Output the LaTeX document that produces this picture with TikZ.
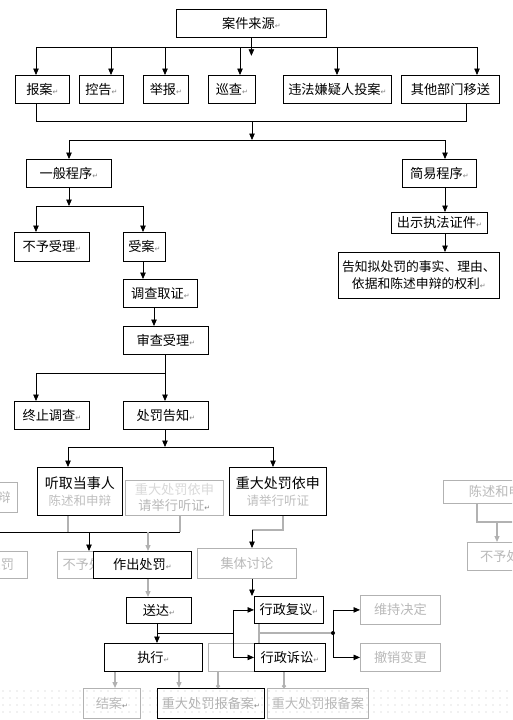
\documentclass[tikz,border=0pt]{standalone}
\usepackage{fontspec}
\setmainfont{Noto Sans CJK SC}
\newfontfamily\djvfont{DejaVu Sans}
\usetikzlibrary{arrows.meta}
\newcommand{\retmk}{{\djvfont\fontsize{7}{7}\selectfont\textcolor{gray}{↵}}}
\newcommand{\mybox}[7][box]{\node[#1, anchor=north west, minimum width={#5-#3}, minimum height={#6-#4}] (#2) at (#3,#4) {#7};}
\tikzset{
  box/.style={draw, line width=0.8pt, inner sep=0pt, font=\fontsize{13.2}{16}\selectfont, align=center},
  gbox/.style={box, draw=gray!60, text=gray!55},
  ln/.style={line width=0.8pt},
  gln/.style={line width=1.2pt, gray!60},
  arr/.style={ln, -{Triangle[length=6.5pt,width=5.5pt]}},
  garr/.style={gln, -{Triangle[length=6pt,width=5pt]}},
  dotarr/.style={gln, -{Circle[length=4pt]}},
}
\begin{document}
\begin{tikzpicture}[x=1pt,y=-1pt]
\clip (0,0) rectangle (512,720);
\fill[white] (0,0) rectangle (512,720);
% dot grid at the bottom
\foreach \x in {3,10,...,510} \foreach \y in {691,698,...,718} \fill[gray!45] (\x,\y) circle (0.55);

% ---------- top part ----------
\mybox{src}{176}{9}{326}{37}{案件来源\retmk}
\mybox{baoan}{15}{75}{69}{103}{报案\retmk}
\mybox{konggao}{79}{75}{123}{103}{控告\retmk}
\mybox{jubao}{143}{75}{188}{103}{举报\retmk}
\mybox{xuncha}{208}{75}{255}{103}{巡查\retmk}
\mybox{toukan}{283}{75}{391}{103}{违法嫌疑人投案\retmk}
\mybox{yisong}{401}{75}{499}{103}{其他部门移送}

\coordinate (b1L) at (36,47);
\coordinate (b1R) at (477,47);
\draw[ln] (b1L) -- (b1R);
\draw[arr] (src.south) -- ++(0,18);
\foreach \x/\n in {36/baoan,111/konggao,165/jubao,240/xuncha,337/toukan,477/yisong}
  \draw[arr] (\x,47) -- (\x,0 |- \n.north);

\draw[ln] (36,0 |- baoan.south) -- (36,121) -- (466,121) -- (466,0 |- yisong.south);
\draw[arr] (252,121) -- (252,140);

\mybox{yiban}{26}{159}{111}{187}{一般程序\retmk}
\mybox{jianyi}{402}{159}{476}{187}{简易程序\retmk}
\draw[ln] (69,140) -- (445,140);
\draw[arr] (69,140) -- (69,0 |- yiban.north);
\draw[arr] (445,140) -- (445,0 |- jianyi.north);

% general procedure
\mybox{buyu}{14}{232}{89}{261}{不予受理\retmk}
\mybox{shouan}{123}{232}{165}{261}{受案\retmk}
\draw[arr] (69,0 |- yiban.south) -- (69,206);
\draw[ln] (36,206) -- (143,206);
\draw[arr] (36,206) -- (36,0 |- buyu.north);
\draw[arr] (143,206) -- (143,0 |- shouan.north);

\mybox{diaocha}{123}{279}{197}{307}{调查取证\retmk}
\draw[arr] (143,0 |- shouan.south) -- (143,0 |- diaocha.north);
\mybox{shencha}{123}{326}{208}{354}{审查受理\retmk}
\draw[arr] (154,0 |- diaocha.south) -- (154,0 |- shencha.north);

\mybox{zhongzhi}{14}{401}{89}{429}{终止调查\retmk}
\mybox{gaozhi}{123}{401}{208}{429}{处罚告知\retmk}
\draw[ln] (165,0 |- shencha.south) -- (165,373) -- (36,373);
\draw[arr] (36,373) -- (36,0 |- zhongzhi.north);
\draw[arr] (165,373) -- (165,0 |- gaozhi.north);

% simple procedure
\mybox{chushi}{391}{212}{487}{233}{出示执法证件\retmk}
\mybox[box,font=\fontsize{12.8}{17}\selectfont]{gaozhi2}{338}{252}{499}{298}{告知拟处罚的事实、理由、\\依据和陈述申辩的权利\retmk}
\draw[arr] (445,0 |- jianyi.south) -- (445,0 |- chushi.north);
\draw[arr] (445,0 |- chushi.south) -- (445,0 |- gaozhi2.north);

% ---------- lower part ----------
\draw[arr] (165,0 |- gaozhi.south) -- (165,447);
\draw[ln] (68,447) -- (273,447);

\node[gbox, anchor=north east, minimum width=80, minimum height=30] (lp1) at (18,482) {陈述和申辩};
\mybox[box,font=\fontsize{14}{17}\selectfont]{tingqu}{37}{467}{122}{515}{听取当事人\\\textcolor{gray!50}{\fontsize{12.5}{15}\selectfont 陈述和申辩}}
\mybox[gbox]{ghost1}{125}{480}{223}{515}{\textcolor{gray!30}{重大处罚依申}\\请举行听证\retmk}
\mybox[box,font=\fontsize{14}{17}\selectfont]{zhongda}{229}{467}{326}{515}{重大处罚依申\\\textcolor{gray!50}{\fontsize{12.5}{15}\selectfont 请举行听证}}
\draw[arr] (68,447) -- (68,0 |- tingqu.north);
\draw[arr] (273,447) -- (273,0 |- zhongda.north);

\mybox[gbox]{rp1}{443}{480}{560}{503}{陈述和申辩}
\mybox[gbox]{rp2}{467}{542}{545}{570}{不予处罚}
\draw[gln] (477,0 |- rp1.south) -- (477,522) -- (520,522);
\draw[garr] (497,522) -- (497,0 |- rp2.north);

\draw[gln] (68,0 |- tingqu.south) -- (68,532);
\draw[gln] (180,0 |- ghost1.south) -- (180,532);
\draw[ln] (0,532) -- (180,532);

\node[gbox, anchor=north east, minimum width=80, minimum height=27] (lp2) at (28,551) {作出处罚};
\mybox[gbox]{buyu2}{57}{551}{120}{578}{不予处罚}
\mybox[box,fill=white]{zuochu}{93}{551}{191}{578}{作出处罚\retmk}
\mybox[gbox]{jiti}{197}{548}{296}{578}{集体讨论}
\draw[arr] (89,532) -- (89,0 |- buyu2.north);
\draw[garr] (148,532) -- (148,0 |- zuochu.north);
\draw[gln] (283,0 |- zhongda.south) -- (283,530) -- (252,530);
\draw[arr] (252,530) -- (252,0 |- jiti.north);

\mybox{songda}{126}{597}{191}{623}{送达\retmk}
\mybox{fuyi}{254}{596}{323}{623}{行政复议\retmk}
\draw[garr] (148,0 |- zuochu.south) -- (148,0 |- songda.north);
\draw[arr] (252,0 |- jiti.south) -- (252,0 |- fuyi.north);

\mybox[gbox]{ghost2}{208}{643}{254}{671}{}
\mybox{zhixing}{104}{643}{202}{671}{执行\retmk}
\mybox{susong}{254}{643}{325}{671}{行政诉讼\retmk}
\draw[ln] (157,0 |- songda.south) -- (157,633) -- (233,633);
\draw[arr] (157,633) -- (157,0 |- zhixing.north);
\draw[ln] (233,0 |- fuyi.west) -- (233,0 |- susong.west);
\draw[arr] (233,0 |- fuyi.west) -- (fuyi.west);
\draw[arr] (233,0 |- susong.west) -- (susong.west);
\draw[gln, line width=2pt] (259,0 |- fuyi.south) -- (259,0 |- susong.north);

\mybox[gbox]{res1}{360}{595}{440}{624}{维持决定}
\mybox[gbox]{res2}{360}{643}{440}{671}{撤销变更}
\draw[gln, line width=2pt] (260,633) -- (333,633);
\fill (333,633) circle (2);
\draw[ln] (333,0 |- res1.west) -- (333,0 |- res2.west);
\draw[arr] (333,0 |- res1.west) -- (res1.west);
\draw[arr] (333,0 |- res2.west) -- (res2.west);

\mybox[gbox]{jiean}{83}{688}{140}{718}{结案\retmk}
\mybox{beian}{157}{688}{264}{718}{\textcolor{gray!60}{重大处罚报备案}\retmk}
\mybox[gbox]{beian2}{267}{688}{368}{718}{重大处罚报备案}
\draw[garr] (115,0 |- zhixing.south) -- (115,0 |- jiean.north);
\draw[garr] (179,0 |- zhixing.south) -- (179,0 |- beian.north);
\draw[dotarr] (218,0 |- ghost2.south) -- (218,0 |- beian.north);
\draw[dotarr] (284,0 |- susong.south) -- (284,0 |- beian2.north);
\end{tikzpicture}
\end{document}
